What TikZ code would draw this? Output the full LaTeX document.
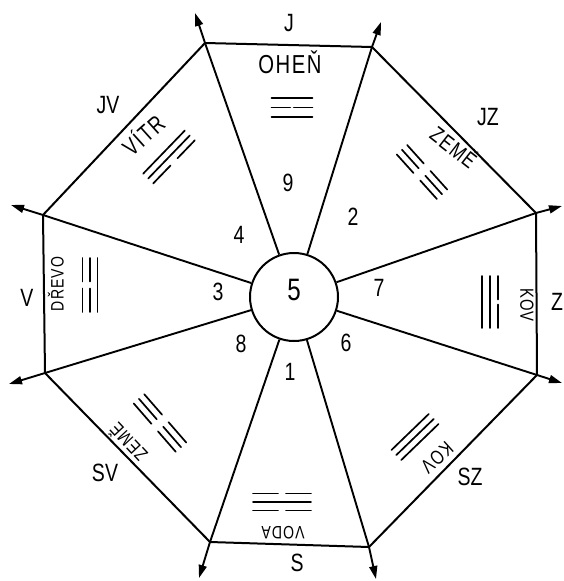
\documentclass[tikz,border=0pt]{standalone}
\usepackage{fontspec}
\setmainfont{Liberation Sans}
\newfontfamily\hand[FakeStretch=0.78]{Liberation Sans}
\newfontfamily\handsp[FakeStretch=0.78,LetterSpace=6]{Liberation Sans}
\usetikzlibrary{arrows.meta}
\tikzset{
  edge/.style={line width=2pt, line join=round},
  ray/.style={line width=1.9pt, line join=round, -{Triangle[length=13pt,width=8pt]}},
  yao/.style={line width=1.7pt, line cap=round},
  dirlab/.style={font=\hand\fontsize{25}{25}\selectfont, inner sep=0pt, text height=0.72em, text depth=0pt},
  elem/.style={font=\handsp\fontsize{#1}{#1}\selectfont, inner sep=0pt, text height=0.72em, text depth=0pt},
  elem/.default=19,
  num/.style={font=\hand\fontsize{25}{25}\selectfont, inner sep=0pt, text height=0.72em, text depth=0pt},
  hub/.style={circle, draw, line width=2pt, minimum size=88pt, inner sep=0pt,
    font=\hand\fontsize{31}{31}\selectfont, text height=0.72em, text depth=0pt},
}
\newcommand\trigr[7]{%
  \begin{scope}[shift={(#1,-#2)},rotate=#3]
    \foreach \lv/\ty in {#7}{%
      \ifnum\ty=1
        \draw[yao] (-#4,\lv*#5) -- (#4,\lv*#5);
      \else
        \draw[yao] (-#4,\lv*#5) -- (-#6,\lv*#5) (#6,\lv*#5) -- (#4,\lv*#5);
      \fi}
  \end{scope}}
\begin{document}
\begin{tikzpicture}[x=1pt,y=1pt]
\useasboundingbox (0,0) rectangle (563,-581);
\fill[white] (0,0) rectangle (563,-581);
% octagon vertices
\coordinate (vJ1) at (205,-43);
\coordinate (vJ2) at (372,-47);
\coordinate (vZ1) at (536,-213);
\coordinate (vZ2) at (537,-375);
\coordinate (vS2) at (369,-547);
\coordinate (vS1) at (210,-542);
\coordinate (vV2) at (45,-373);
\coordinate (vV1) at (43,-215);
% arrow tips
\coordinate (t1) at (195,-13);
\coordinate (t2) at (381,-22);
\coordinate (t3) at (562,-206);
\coordinate (t4) at (562,-383);
\coordinate (t5) at (376,-579);
\coordinate (t6) at (199,-578);
\coordinate (t7) at (9,-384);
\coordinate (t8) at (11,-205);
\draw[edge] (vJ1) -- (vJ2) -- (vZ1) -- (vZ2) -- (vS2) -- (vS1) -- (vV2) -- (vV1) -- cycle;
\node[hub] (ctr) at (294,-297) {5};
\draw[ray] (ctr) -- (vJ1) -- (t1);
\draw[ray] (ctr) -- (vJ2) -- (t2);
\draw[ray] (ctr) -- (vZ1) -- (t3);
\draw[ray] (ctr) -- (vZ2) -- (t4);
\draw[ray] (ctr) -- (vS2) -- (t5);
\draw[ray] (ctr) -- (vS1) -- (t6);
\draw[ray] (ctr) -- (vV2) -- (t7);
\draw[ray] (ctr) -- (vV1) -- (t8);
% direction labels
\node[dirlab] (lJ) at (289,-28) {J};
\node[dirlab] (lJZ) at (488,-122) {JZ};
\node[dirlab] (lZ) at (557,-307) {Z};
\node[dirlab] (lSZ) at (470,-482) {SZ};
\node[dirlab] (lS) at (297,-568) {S};
\node[dirlab] (lSV) at (105,-478) {SV};
\node[dirlab] (lV) at (27,-303) {V};
\node[dirlab] (lJV) at (108,-110) {JV};
% element names
\node[elem=26] (eJ) at (290,-70) {OHEŇ};
\node[elem=24, rotate=42] (eJV) at (147,-139) {VÍTR};
\node[elem=22, rotate=-38] (eJZ) at (451,-151) {ZEMĚ};
\node[elem=18, rotate=90] (eV) at (60,-284) {DŘEVO};
\node[elem=19, rotate=-90] (eZ) at (524,-305) {KOV};
\node[elem=20, rotate=-138] (eSZ) at (435,-455) {KOV};
\node[elem=18, rotate=180] (eS) at (283,-530) {VODA};
\node[elem=19, rotate=133] (eSV) at (131,-440) {ZEMĚ};
% numbers
\node[num] (n9) at (288,-188) {9};
\node[num] (n2) at (353,-222) {2};
\node[num] (n4) at (239,-240) {4};
\node[num] (n3) at (218,-297) {3};
\node[num] (n7) at (379,-293) {7};
\node[num] (n8) at (241,-349) {8};
\node[num] (n6) at (346,-348) {6};
\node[num] (n1) at (290,-377) {1};
% trigrams
\trigr{292}{107.5}{0}{20.5}{9.5}{1.8}{1/1,0/0,-1/1}
\trigr{282}{502}{180}{29}{8.5}{4}{1/0,0/1,-1/0}
\trigr{90}{285}{90}{27}{7.5}{3.5}{1/0,0/0,-1/1}
\trigr{490}{302}{-90}{26}{8}{2.5}{1/0,0/1,-1/1}
\trigr{169}{157}{46}{30}{7}{5}{1/1,0/1,-1/0}
\trigr{422}{172}{-48}{30}{7}{5}{1/0,0/0,-1/0}
\trigr{160}{423}{131}{32}{7}{5}{1/0,0/0,-1/0}
\trigr{415}{437}{-136}{26}{7}{0}{1/1,0/1,-1/1}
\end{tikzpicture}
\end{document}
